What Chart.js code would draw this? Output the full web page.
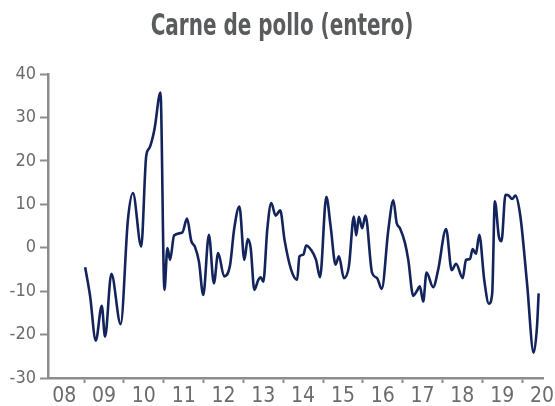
<!DOCTYPE html>
<html>
<head>
<meta charset="utf-8">
<title>Carne de pollo (entero)</title>
<script src="https://cdn.jsdelivr.net/npm/chart.js"></script>
<style>
  html, body { margin: 0; padding: 0; background: #fff; }
  #wrap { width: 555px; height: 406px; }
</style>
</head>
<body>
<div id="wrap"><canvas id="chart"></canvas></div>
<script>
const chartTitle = 'Carne de pollo (entero)';
const yearLabels = ['08', '09', '10', '11', '12', '13', '14', '15', '16', '17', '18', '19', '20'];
const yTicks = [-30, -20, -10, 0, 10, 20, 30, 40];

// months counted from Jan 2008
const monthIdx = [
  12.3, 13.8, 15.5, 17.3, 18.3, 20.2, 23.0, 25.2, 26.7, 29.2, 30.7, 31.7, 33.2, 35.0,
  36.2, 37.1, 37.9, 39.1, 41.6, 43.0, 44.3, 45.4, 46.6, 47.9,
  49.6, 51.1, 52.4, 54.2, 56.0, 57.2, 58.8,
  60.3, 61.3, 62.2, 63.3, 64.5, 65.2, 66.0, 67.2, 68.4, 69.7, 71.1,
  72.4, 74.4, 76.2, 76.9, 78.1, 78.9, 80.4, 81.9, 83.1,
  85.0, 86.3, 87.8, 88.8, 90.3, 91.8, 93.3, 94.0, 94.8,
  95.8, 96.8, 98.8, 100.3, 101.7, 103.7, 105.2, 106.2, 107.2,
  108.7, 109.7, 111.2, 112.2, 113.2, 114.2, 115.2, 117.2, 118.7,
  121.1, 122.8, 124.1, 126.1, 127.1, 128.3, 129.1, 130.1, 131.1,
  132.6, 134.0, 135.0, 135.8, 137.0, 137.8, 139.0, 140.0, 141.0, 142.0, 143.5,
  145.5, 147.5, 148.5, 149.0
];
const values = [
  -4.5, -11.2, -21.4, -13.4, -20.5, -6.0, -17.6, 6.5, 12.6, 0.3, 21.1, 23.0, 27.3, 35.7,
  -9.7, -0.1, -2.8, 2.8, 3.5, 6.7, 1.5, 0.2, -3.2, -10.9,
  3.0, -8.2, -1.2, -6.6, -3.9, 4.2, 9.5,
  -2.8, 2.0, -0.1, -9.7, -7.4, -6.8, -7.8, 4.2, 10.3, 7.4, 8.6,
  1.8, -5.1, -7.4, -2.0, -1.6, 0.5, -0.5, -2.8, -6.8,
  11.7, 4.9, -3.9, -2.0, -7.0, -4.3, 7.2, 2.8, 7.1,
  4.5, 7.4, -5.8, -7.0, -9.5, 4.2, 10.9, 5.7, 4.5,
  1.1, -2.8, -11.1, -10.1, -8.9, -12.4, -5.7, -9.1, -5.1,
  4.3, -5.2, -3.7, -7.0, -2.8, -2.6, -0.3, -1.4, 3.0,
  -7.4, -12.9, -10.5, 10.7, 2.6, 1.5, 12.2, 12.0, 11.2, 12.0, 7.2,
  -8.2, -24.2, -18.2, -10.5
];

const axisGray = '#8c8c8c';
const textGray = '#6b6c6e';
const narrow = "'Liberation Sans Narrow', 'DejaVu Sans Condensed', 'Arial Narrow', sans-serif";

const points = monthIdx.map((m, i) => ({ x: m, y: values[i] }));

// title drawn narrower than the available condensed face, like the original
const squeezedTitle = {
  id: 'squeezedTitle',
  afterDraw(chart) {
    const ctx = chart.ctx;
    ctx.save();
    ctx.translate(282, 35);
    ctx.scale(0.74, 1);
    ctx.font = 'bold 30px ' + narrow;
    ctx.fillStyle = '#5a5b5d';
    ctx.textAlign = 'center';
    ctx.textBaseline = 'alphabetic';
    ctx.fillText(chartTitle, 0, 0);
    ctx.restore();
  }
};

new Chart(document.getElementById('chart'), {
  type: 'line',
  data: {
    datasets: [{
      data: points,
      borderColor: '#13235b',
      borderWidth: 2.6,
      pointRadius: 0,
      fill: false,
      cubicInterpolationMode: 'monotone'
    }]
  },
  plugins: [squeezedTitle],
  options: {
    responsive: true,
    maintainAspectRatio: false,
    animation: false,
    layout: { padding: { left: 0, right: 7, top: 74, bottom: 0 } },
    plugins: {
      legend: { display: false },
      tooltip: { enabled: false },
      title: { display: false }
    },
    scales: {
      x: {
        type: 'linear',
        min: 1.1,
        max: 150.4,
        afterBuildTicks(scale) {
          const t = [];
          yearLabels.forEach((lab, i) => {
            if (i > 0) t.push({ value: i * 12 });
            t.push({ value: i * 12 + 6 });
          });
          scale.ticks = t;
        },
        afterFit(scale) { scale.height = 28; },
        grid: {
          display: true,
          drawOnChartArea: false,
          drawTicks: true,
          tickLength: 5,
          tickWidth: 2,
          tickColor: ctx => (ctx.tick && ctx.tick.value % 12 === 0) ? axisGray : 'rgba(0,0,0,0)'
        },
        border: { display: true, color: axisGray, width: 2.5 },
        ticks: {
          autoSkip: false,
          maxRotation: 0,
          padding: 1,
          color: textGray,
          font: { family: narrow, size: 21 },
          callback: v => (v % 12 === 6) ? yearLabels[(v - 6) / 12] : ''
        }
      },
      y: {
        min: -30,
        max: 40,
        afterBuildTicks(scale) {
          scale.ticks = yTicks.map(v => ({ value: v }));
        },
        afterFit(scale) { scale.width = 48; },
        grid: {
          display: true,
          drawOnChartArea: false,
          drawTicks: true,
          tickLength: 8,
          tickWidth: 2,
          tickColor: axisGray
        },
        border: { display: true, color: axisGray, width: 2.5 },
        ticks: {
          padding: 4,
          color: textGray,
          font: { family: narrow, size: 18 }
        }
      }
    }
  }
});
</script>
</body>
</html>
